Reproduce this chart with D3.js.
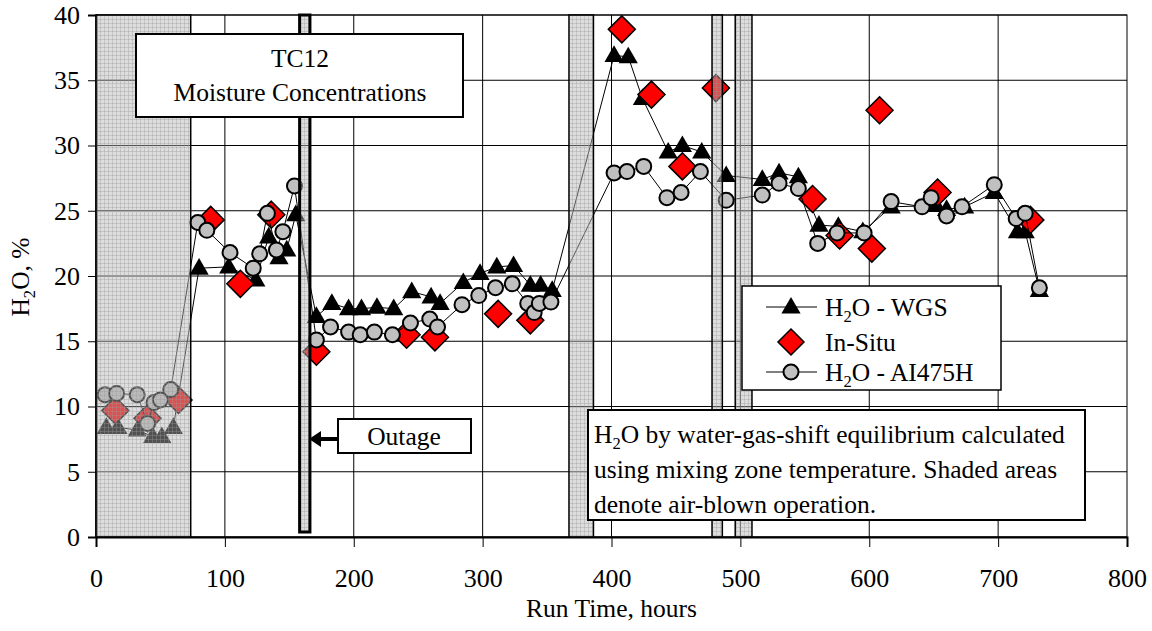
<!DOCTYPE html>
<html>
<head>
<meta charset="utf-8">
<script src="https://cdn.jsdelivr.net/npm/d3@7"></script>
<style>
  body { margin: 0; background: #fff; }
  svg { font-family: "Liberation Serif", "Times New Roman", serif; }
</style>
</head>
<body>
<svg width="1152" height="631"></svg>
<script>
// H2O by water-gas-shift (triangles)
var wgsHours = [8, 17, 32, 44, 51, 60, 80, 103, 124, 134, 142, 148, 155, 171, 183, 196, 206, 218, 231, 245, 260, 267, 285, 298, 311, 324, 337, 345, 354, 402, 413, 424, 444, 455, 470, 489, 517, 530, 545, 561, 576, 595, 617, 652, 660, 674, 697, 715, 721, 732];
var wgsVals = [8.4, 8.4, 8.2, 7.7, 7.7, 8.4, 20.6, 20.7, 19.7, 23.0, 21.4, 22.0, 24.7, 16.9, 17.9, 17.5, 17.5, 17.6, 17.5, 18.8, 18.4, 17.9, 19.5, 20.2, 20.7, 20.8, 19.3, 19.3, 18.9, 36.9, 36.8, 33.6, 29.5, 30.0, 29.5, 27.7, 27.4, 27.9, 27.6, 23.9, 23.8, 23.4, 25.3, 25.4, 25.1, 25.3, 26.4, 23.4, 23.4, 18.9];

// In-situ (diamonds, no line)
var insituHours = [15, 40, 64, 89, 112, 136, 171, 241, 263, 312, 337, 408, 431, 455, 481, 556, 577, 602, 608, 653, 725];
var insituVals = [9.7, 9.1, 10.5, 24.3, 19.4, 24.7, 14.2, 15.5, 15.3, 17.1, 16.6, 38.9, 33.9, 28.4, 34.4, 25.9, 23.1, 22.1, 32.7, 26.4, 24.3];

// H2O - AI475H analyser (circles)
var aiHours = [7, 16, 32, 40, 45, 50, 58, 79, 86, 104, 122, 127, 133, 140, 145, 154, 171, 182, 196, 205, 216, 230, 244, 259, 265, 284, 297, 310, 323, 335, 340, 344, 353, 402, 412, 425, 443, 454, 469, 489, 517, 530, 545, 560, 575, 596, 617, 641, 648, 660, 672, 697, 714, 721, 732];
var aiVals = [10.9, 11.0, 10.9, 8.7, 10.3, 10.5, 11.3, 24.1, 23.5, 21.8, 20.6, 21.7, 24.8, 22.0, 23.4, 26.9, 15.1, 16.1, 15.7, 15.5, 15.7, 15.5, 16.4, 16.7, 16.1, 17.8, 18.5, 19.1, 19.4, 17.9, 17.2, 17.9, 18.0, 27.9, 28.0, 28.4, 26.0, 26.4, 28.0, 25.8, 26.2, 27.1, 26.7, 22.5, 23.3, 23.3, 25.7, 25.3, 26.0, 24.6, 25.3, 27.0, 24.4, 24.8, 19.1];

// air-blown periods (hours)
var airStart = [0, 158, 367, 478, 496];
var airEnd = [73.5, 166, 386, 486, 509];

var xTicks = [0, 100, 200, 300, 400, 500, 600, 700, 800];
var yTicks = [0, 5, 10, 15, 20, 25, 30, 35, 40];

var svg = d3.select('svg'),
  W = +svg.attr('width'),
  H = +svg.attr('height'),
  m = {top: 15, right: 25, bottom: 94, left: 96},
  w = W - m.left - m.right,
  h = H - m.top - m.bottom;

var x = d3.scaleLinear().domain([0, 800]).range([0, w]);
var y = d3.scaleLinear().domain([0, 40]).range([h, 0]);

var defs = svg.append('defs');
var pat = defs.append('pattern')
  .attr('id', 'hatch').attr('patternUnits', 'userSpaceOnUse')
  .attr('width', 4).attr('height', 4);
pat.append('rect').attr('width', 4).attr('height', 4)
  .attr('fill', 'rgb(181,181,181)').attr('fill-opacity', 0.45);
pat.append('path').attr('d', 'M0,0.5H4M0.5,0V4')
  .attr('stroke', 'rgb(150,150,150)').attr('stroke-opacity', 0.35).attr('stroke-width', 1);

var g = svg.append('g').attr('transform', 'translate(' + m.left + ',' + m.top + ')');

// grid
g.selectAll('.hgrid').data(yTicks).enter().append('line')
  .attr('x1', 0).attr('x2', w)
  .attr('y1', function(d) { return y(d); }).attr('y2', function(d) { return y(d); })
  .attr('stroke', '#000').attr('stroke-width', 1);
g.selectAll('.vgrid').data(xTicks.slice(1, -1)).enter().append('line')
  .attr('y1', 0).attr('y2', h)
  .attr('x1', function(d) { return x(d); }).attr('x2', function(d) { return x(d); })
  .attr('stroke', '#000').attr('stroke-width', 1);
g.append('rect').attr('width', w).attr('height', h)
  .attr('fill', 'none').attr('stroke', '#000').attr('stroke-width', 1);

// axes
var yAxis = g.append('g').call(d3.axisLeft(y).tickValues(yTicks).tickSize(8).tickPadding(8));
var xAxis = g.append('g').attr('transform', 'translate(0,' + h + ')')
  .call(d3.axisBottom(x).tickValues(xTicks).tickSize(10).tickPadding(22));
[xAxis, yAxis].forEach(function(a) {
  a.select('.domain').attr('stroke-width', 2);
  a.selectAll('text').attr('font-size', 26).attr('fill', '#000')
    .attr('font-family', '"Liberation Serif", "Times New Roman", serif');
});

// series
var tri = d3.symbol().type(d3.symbolTriangle).size(160);
var dia = function(s) { return 'M0,' + (-s) + 'L' + s + ',0L0,' + s + 'L' + (-s) + ',0Z'; };

var wgs = wgsHours.map(function(d, i) { return [d, wgsVals[i]]; });
var ins = insituHours.map(function(d, i) { return [d, insituVals[i]]; });
var ai = aiHours.map(function(d, i) { return [d, aiVals[i]]; });

var line = d3.line().x(function(d) { return x(d[0]); }).y(function(d) { return y(d[1]); });

g.append('path').datum(wgs).attr('d', line)
  .attr('fill', 'none').attr('stroke', '#000').attr('stroke-width', 1);
g.selectAll('.tri').data(wgs).enter().append('path')
  .attr('d', tri)
  .attr('transform', function(d) { return 'translate(' + x(d[0]) + ',' + (y(d[1]) + 1) + ')'; })
  .attr('fill', '#000');

g.selectAll('.dia').data(ins).enter().append('path')
  .attr('d', dia(13.5))
  .attr('transform', function(d) { return 'translate(' + x(d[0]) + ',' + y(d[1]) + ')'; })
  .attr('fill', '#ff0000').attr('stroke', '#000').attr('stroke-width', 1.5);

g.append('path').datum(ai).attr('d', line)
  .attr('fill', 'none').attr('stroke', '#000').attr('stroke-width', 1);
g.selectAll('.cir').data(ai).enter().append('circle')
  .attr('cx', function(d) { return x(d[0]); })
  .attr('cy', function(d) { return y(d[1]); })
  .attr('r', 7.5)
  .attr('fill', '#c0c0c0').attr('stroke', '#000').attr('stroke-width', 2);

// shaded air-blown periods, drawn over the data
g.selectAll('.air').data(airStart).enter().append('rect')
  .attr('x', function(d) { return x(d); })
  .attr('width', function(d, i) { return x(airEnd[i]) - x(d); })
  .attr('y', 0).attr('height', function(d, i) { return i === 1 ? h - 5 : h; })
  .attr('fill', 'url(#hatch)')
  .attr('stroke', '#000')
  .attr('stroke-width', function(d, i) { return i === 1 ? 3 : 1.5; });

// title box
var tb = svg.append('g');
tb.append('rect').attr('x', 136).attr('y', 34).attr('width', 327).attr('height', 83)
  .attr('fill', '#fff').attr('stroke', '#000').attr('stroke-width', 2);
tb.append('text').attr('x', 300).attr('y', 67).attr('text-anchor', 'middle')
  .attr('font-size', 25.5).text('TC12');
tb.append('text').attr('x', 300).attr('y', 101).attr('text-anchor', 'middle')
  .attr('font-size', 25.5).text('Moisture Concentrations');

// outage callout
var ob = svg.append('g');
ob.append('line').attr('x1', 338).attr('x2', 318).attr('y1', 439).attr('y2', 439)
  .attr('stroke', '#000').attr('stroke-width', 4);
ob.append('path').attr('d', 'M309,439L321,431L321,447Z').attr('fill', '#000');
ob.append('rect').attr('x', 338).attr('y', 419).attr('width', 133).attr('height', 34)
  .attr('fill', '#fff').attr('stroke', '#000').attr('stroke-width', 2);
ob.append('text').attr('x', 404).attr('y', 445).attr('text-anchor', 'middle')
  .attr('font-size', 25.5).text('Outage');

// legend
var lg = svg.append('g');
lg.append('rect').attr('x', 742).attr('y', 286).attr('width', 259).attr('height', 104)
  .attr('fill', '#fff').attr('stroke', '#000').attr('stroke-width', 1.5);
var rows = [307, 342, 372];
lg.append('line').attr('x1', 766).attr('x2', 817).attr('y1', rows[0]).attr('y2', rows[0]).attr('stroke', '#000');
lg.append('path').attr('d', tri).attr('transform', 'translate(791,' + (rows[0] + 1) + ')').attr('fill', '#000');
lg.append('path').attr('d', dia(13)).attr('transform', 'translate(791,' + rows[1] + ')')
  .attr('fill', '#ff0000').attr('stroke', '#000').attr('stroke-width', 1.5);
lg.append('line').attr('x1', 766).attr('x2', 817).attr('y1', rows[2]).attr('y2', rows[2]).attr('stroke', '#000');
lg.append('circle').attr('cx', 791).attr('cy', rows[2]).attr('r', 7.5)
  .attr('fill', '#c0c0c0').attr('stroke', '#000').attr('stroke-width', 2);

function h2oText(sel, rest) {
  sel.append('tspan').text('H');
  sel.append('tspan').attr('font-size', '0.65em').attr('dy', 6).text('2');
  sel.append('tspan').attr('dy', -6).text(rest);
}
var t1 = lg.append('text').attr('x', 825).attr('y', rows[0] + 9).attr('font-size', 25.5);
h2oText(t1, 'O - WGS');
lg.append('text').attr('x', 825).attr('y', rows[1] + 9).attr('font-size', 25.5).text('In-Situ');
var t3 = lg.append('text').attr('x', 825).attr('y', rows[2] + 9).attr('font-size', 25.5);
h2oText(t3, 'O - AI475H');

// note box
var nb = svg.append('g');
nb.append('rect').attr('x', 588).attr('y', 410).attr('width', 497).attr('height', 110)
  .attr('fill', '#fff').attr('stroke', '#000').attr('stroke-width', 2);
var n1 = nb.append('text').attr('x', 594).attr('y', 443).attr('font-size', 25.5);
h2oText(n1, 'O by water-gas-shift equilibrium calculated');
nb.append('text').attr('x', 594).attr('y', 478).attr('font-size', 25.5)
  .text('using mixing zone temperature. Shaded areas');
nb.append('text').attr('x', 594).attr('y', 513).attr('font-size', 25.5)
  .text('denote air-blown operation.');

// axis titles
svg.append('text').attr('x', m.left + w / 2).attr('y', 617).attr('text-anchor', 'middle')
  .attr('font-size', 25.5).text('Run Time, hours');
var yl = svg.append('text').attr('transform', 'translate(29,277) rotate(-90)')
  .attr('text-anchor', 'middle').attr('font-size', 25.5);
h2oText(yl, 'O, %');
</script>
</body>
</html>
